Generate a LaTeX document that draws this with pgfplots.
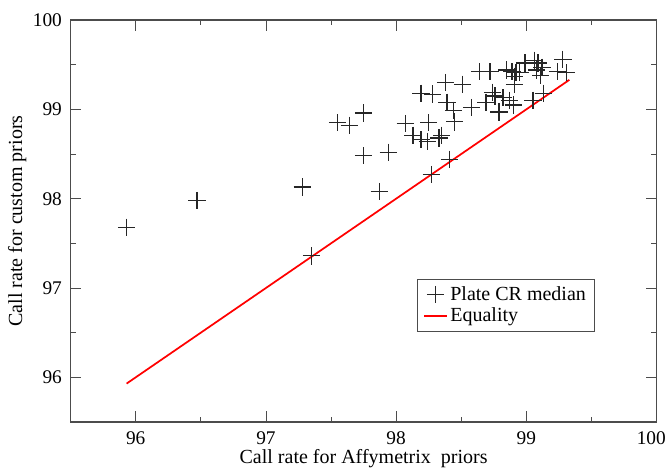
\documentclass[border=0pt]{standalone}
\usepackage{fontspec}
\setmainfont{Liberation Serif}
\usepackage{pgfplots}
\pgfplotsset{compat=1.18}
\begin{document}
\begin{tikzpicture}
\begin{axis}[
  scale only axis, width=439.5pt, height=301.5pt,
  xmin=95.5, xmax=100, ymin=95.5, ymax=100,
  xtick={96,97,98,99,100}, ytick={96,97,98,99,100},
  xticklabels={96,97,98,99,{\hspace*{-8pt}100}},
  minor tick num=1,
  tick align=inside,
  major tick length=8pt, minor tick length=4pt,
  tick style={black!70, line width=0.6pt},
  axis line style={black!70, line width=0.8pt},
  /pgf/number format/assume math mode=true,
  ticklabel style={font=\fontsize{14.5}{17}\selectfont},
  xticklabel style={yshift=-3.5pt},
  yticklabel style={xshift=-3pt},
  label style={font=\fontsize{15}{18}\selectfont},
  xlabel={Call rate for Affymetrix\ \ priors},
  ylabel={Call rate for custom priors},
  xlabel style={yshift=3pt},
  ylabel style={yshift=-2pt},
  legend style={at={(0.591,0.356)}, anchor=north west, draw=black!70,
    font=\fontsize{15}{18}\selectfont, inner xsep=4.5pt, inner ysep=3.5pt},
  legend cell align=left,
]
\addplot[only marks, mark=+, mark size=6.5pt, black!85, line width=0.95pt] coordinates {
(95.93,97.68) (96.47,97.98) (97.28,98.13) (97.35,97.36) (97.87,98.08)
(97.75,98.48) (97.94,98.52) (98.27,98.27) (98.41,98.44) (97.55,98.85)
(97.64,98.82) (97.75,98.96) (98.07,98.84) (98.25,98.85) (98.13,98.71)
(98.19,98.66) (98.24,98.64) (98.33,98.68) (98.35,98.71) (98.45,98.86)
(98.44,98.99) (98.39,99.08) (98.19,99.18) (98.28,99.17) (98.38,99.30)
(98.51,99.28) (98.58,99.02) (98.69,99.08) (98.64,99.42) (98.72,99.42)
(98.76,99.15) (98.79,98.97) (98.82,99.13) (98.87,99.10) (98.90,99.05)
(98.91,99.28) (98.85,99.44) (98.89,99.42) (98.92,99.41) (98.91,99.37)
(98.95,99.41) (98.99,99.52) (99.06,99.55) (99.09,99.52) (99.12,99.47)
(99.08,99.44) (99.11,99.38) (99.24,99.42) (99.28,99.56) (99.31,99.41)
(99.05,99.10) (99.13,99.18) (98.74,99.19)
};
\addlegendentry{Plate CR median}
\addplot[red, line width=1.3pt] coordinates {(95.93,95.93) (99.33,99.33)};
\addlegendentry{Equality}
\end{axis}
\pgfresetboundingbox
\path[use as bounding box] ([shift={(-52.95pt,-35.25pt)}]current axis.south west) rectangle ([shift={(447.3pt,316.5pt)}]current axis.south west);
\end{tikzpicture}
\end{document}
